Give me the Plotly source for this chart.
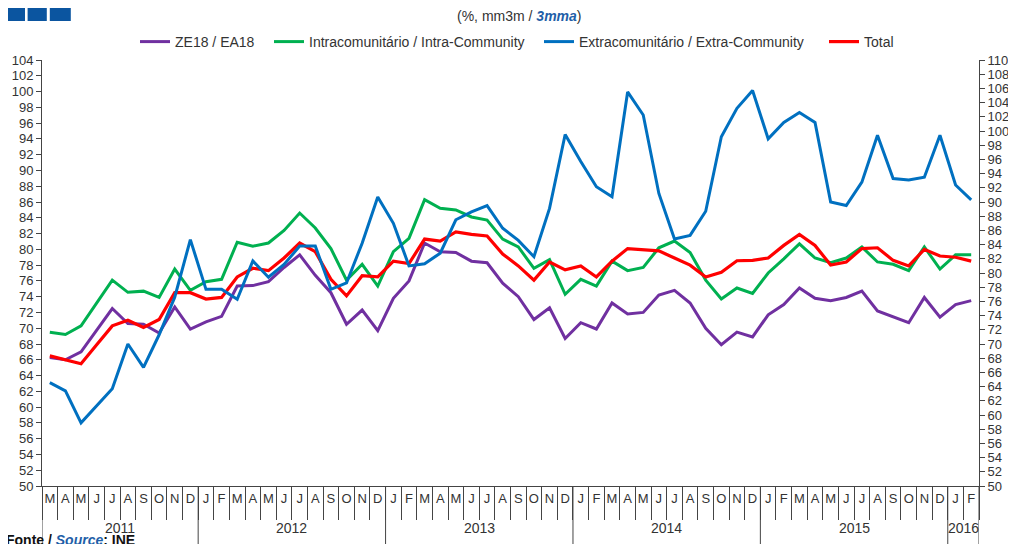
import plotly.graph_objects as go

# ---------------- data ----------------
years = ["2011"] * 10 + ["2012"] * 12 + ["2013"] * 12 + ["2014"] * 12 + ["2015"] * 12 + ["2016"] * 2
month_labels = (["M", "A", "M", "J", "J", "A", "S", "O", "N", "D"]
                + ["J", "F", "M", "A", "M", "J", "J", "A", "S", "O", "N", "D"] * 4
                + ["J", "F"])

ze18 = [66.3, 66.0, 67.0, 69.8, 72.5, 70.6, 70.5, 69.4, 72.7, 69.9,
        70.8, 71.5, 75.35, 75.4, 75.9, 77.7, 79.3, 76.7, 74.5, 70.5, 72.3, 69.7,
        73.8, 76.0, 80.8, 79.7, 79.6, 78.5, 78.3, 75.7, 74.0, 71.1, 72.6, 68.7,
        70.7, 69.9, 73.2, 71.8, 72.0, 74.2, 74.8, 73.2, 70.0, 67.9, 69.5, 68.9,
        71.7, 73.0, 75.1, 73.8, 73.5, 73.9, 74.7, 72.2, 71.5, 70.7, 73.9, 71.4,
        73.0, 73.5]
intra = [69.5, 69.2, 70.3, 73.2, 76.1, 74.55, 74.7, 73.9, 77.5, 74.8,
         75.9, 76.2, 80.9, 80.4, 80.8, 82.4, 84.6, 82.7, 80.1, 76.1, 78.1, 75.35,
         79.7, 81.4, 86.3, 85.2, 85.0, 84.1, 83.7, 81.3, 80.3, 77.6, 78.7, 74.3,
         76.2, 75.35, 78.5, 77.3, 77.7, 80.2, 81.05, 79.6, 76.1, 73.7, 75.1, 74.4,
         77.0, 78.8, 80.7, 78.9, 78.3, 78.9, 80.3, 78.4, 78.1, 77.3, 80.3, 77.5,
         79.3, 79.3]
extra = [64.55, 63.4, 58.9, 61.3, 63.7, 70.0, 66.7, 71.3, 76.6, 84.7,
         77.7, 77.7, 76.3, 81.7, 79.4, 81.2, 83.8, 83.8, 77.7, 78.6, 84.2, 90.7,
         87.0, 81.0, 81.3, 82.8, 87.5, 88.6, 89.5, 86.3, 84.6, 82.3, 89.1, 99.5,
         95.7, 92.15, 90.75, 105.5, 102.25, 91.2, 84.8, 85.3, 88.7, 99.2, 103.2, 105.7,
         98.9, 101.2, 102.6, 101.2, 90.0, 89.5, 92.8, 99.4, 93.3, 93.1, 93.5, 99.4,
         92.4, 90.3]
total = [66.5, 66.0, 65.5, 67.9, 70.3, 71.0, 70.1, 71.1, 74.5, 74.5,
         73.7, 73.9, 76.5, 77.6, 77.3, 78.9, 80.8, 79.7, 76.2, 74.1, 76.65, 76.5,
         78.5, 78.2, 81.3, 81.05, 82.2, 81.9, 81.7, 79.4, 77.9, 76.1, 78.4, 77.4,
         77.9, 76.5, 78.5, 80.1, 80.0, 79.8, 78.9, 78.0, 76.5, 77.1, 78.55, 78.6,
         78.9, 80.5, 81.9, 80.5, 78.0, 78.4, 80.1, 80.2, 78.6, 77.9, 80.0, 79.15,
         79.0, 78.5]

series_names = ["ZE18 / EA18", "Intracomunitário / Intra-Community",
                "Extracomunitário / Extra-Community", "Total"]

# ---------------- style ----------------
FONT = "Liberation Sans, Arial, sans-serif"
AX = "#444444"
TXT = "#333333"
OFF = 8                      # page body margin of the html page
SW, SH = 1016, 544           # screen size
W, H = SW - OFF, SH - OFF    # figure size
PL, PR, PT, PB = 42, 979, 60, 486   # plot area in screen pixels
ML, MR, MT, MB = PL - OFF, SW - PR, PT - OFF, SH - PB
PW, PH = PR - PL, PB - PT


def px_x(px):
    return (px - PL) / PW


def px_y(py):
    return (PB - py) / PH


xpos = list(range(len(month_labels)))
colors = ["#7030a0", "#00b050", "#0070c0", "#ff0000"]
values = [ze18, intra, extra, total]
yaxes = ["y", "y", "y2", "y"]
widths = [3, 3, 3, 3.2]
legend_ids = ["legend", "legend2", "legend3", "legend4"]
legend_px = [141, 275, 545, 830]  # screen x of each legend sample line

fig = go.Figure()
for name, vals, col, ya, wd, lg in zip(series_names, values, colors, yaxes, widths, legend_ids):
    fig.add_trace(go.Scatter(x=xpos, y=vals, name=name, mode="lines", yaxis=ya,
                             legend=lg, line=dict(color=col, width=wd)))

n = len(month_labels)
boundaries = [i - 0.5 for i in range(n + 1)]

# year groups
year_order = []
for y in years:
    if y not in year_order:
        year_order.append(y)
year_bounds = [-0.5]
year_centers = []
for y in year_order:
    idx = [i for i, v in enumerate(years) if v == y]
    year_centers.append((idx[0] + idx[-1]) / 2)
    year_bounds.append(idx[-1] + 0.5)

shapes = []
for b in year_bounds:
    shapes.append(dict(type="line", xref="x", yref="paper", x0=b, x1=b,
                       y0=0, y1=px_y(SH), line=dict(color=AX, width=1)))
# logo squares
for x0, x1 in [(5.7, 25), (27.6, 46.8), (49.8, 70.8)]:
    shapes.append(dict(type="rect", xref="paper", yref="paper",
                       x0=px_x(x0), x1=px_x(x1), y0=px_y(21), y1=px_y(OFF),
                       line=dict(width=0), fillcolor="#0b55a0"))

annotations = []
for y, c in zip(year_order, year_centers):
    annotations.append(dict(x=c, y=px_y(528), xref="x", yref="paper", text=y,
                            showarrow=False, yanchor="middle",
                            font=dict(family=FONT, size=14, color=TXT)))
annotations.append(dict(x=px_x(519), y=px_y(16), xref="paper", yref="paper",
                        xanchor="center", yanchor="middle", showarrow=False,
                        text="(%, mm3m / <span style='color:#1f5fa8'><b><i>3mma</i></b></span>)",
                        font=dict(family=FONT, size=14, color=TXT)))
annotations.append(dict(x=px_x(4), y=px_y(540), xref="paper", yref="paper",
                        xanchor="left", yanchor="middle", showarrow=False,
                        text="<b>Fonte / <span style='color:#1f5fa8'><i>Source</i></span>: INE</b>",
                        font=dict(family=FONT, size=14, color="#111111")))

legend_layout = {}
for lg, lx in zip(legend_ids, legend_px):
    legend_layout[lg] = dict(orientation="h", xref="container", yref="container",
                             x=(lx - 6 - OFF) / W, xanchor="left",
                             y=1 - (42 - OFF) / H, yanchor="middle",
                             font=dict(family=FONT, size=14, color=TXT),
                             bgcolor="rgba(0,0,0,0)", itemwidth=30)

fig.update_layout(
    width=W, height=H, autosize=False,
    margin=dict(l=ML, r=MR, t=MT, b=MB, pad=0, autoexpand=False),
    paper_bgcolor="white", plot_bgcolor="white",
    font=dict(family=FONT, size=13, color=TXT),
    showlegend=True,
    xaxis=dict(range=[-0.5, n - 0.5], tickmode="array", tickvals=xpos,
               ticktext=month_labels, ticks="", showgrid=False, zeroline=False,
               showline=True, linecolor=AX, linewidth=1,
               tickfont=dict(family=FONT, size=13, color=TXT),
               minor=dict(tickmode="array", tickvals=boundaries, ticks="outside",
                          ticklen=33, tickcolor=AX, tickwidth=1, showgrid=False)),
    yaxis=dict(range=[50, 104], tick0=50, dtick=2, ticks="outside", ticklen=5,
               tickcolor=AX, showgrid=False, zeroline=False, showline=True,
               linecolor=AX, linewidth=1,
               tickfont=dict(family=FONT, size=13, color=TXT)),
    yaxis2=dict(range=[50, 110], tick0=50, dtick=2, ticks="outside", ticklen=5,
                tickcolor=AX, showgrid=False, zeroline=False, showline=True,
                linecolor=AX, linewidth=1, overlaying="y", side="right",
                tickfont=dict(family=FONT, size=13, color=TXT)),
    shapes=shapes,
    annotations=annotations,
    **legend_layout,
)

fig.write_html("out.html")
